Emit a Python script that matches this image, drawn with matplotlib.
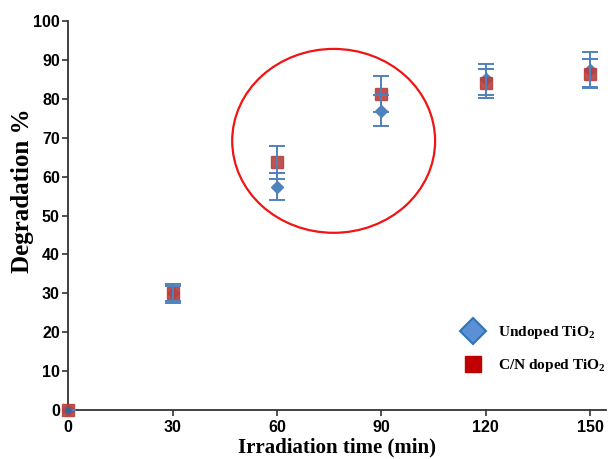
import matplotlib
matplotlib.use("Agg")
import matplotlib.pyplot as plt
from matplotlib.patches import Ellipse
from matplotlib.lines import Line2D

plt.rcParams['mathtext.fontset'] = 'custom'
plt.rcParams['mathtext.bf'] = 'Liberation Serif:bold'
plt.rcParams['mathtext.rm'] = 'Liberation Serif:bold'

# Irradiation time (min)
time = [0, 30, 60, 90, 120, 150]
x_ticks = [0, 30, 60, 90, 120, 150]
y_ticks = [0, 10, 20, 30, 40, 50, 60, 70, 80, 90, 100]

# Degradation % with error
undoped = [0, 30.0, 57.4, 76.9, 85.0, 87.5]
undoped_err = [0, 2.5, 3.5, 4.0, 4.0, 4.5]
doped = [0, 30.0, 63.7, 81.2, 84.0, 86.5]
doped_err = [0, 1.9, 4.3, 4.7, 3.8, 3.8]

# Highlighted region (centre x, centre y, width, height) in data units
highlight = (76.3, 69.2, 58.3, 47.3)

blue = '#4F81BD'
red = '#B9403D'

fig = plt.figure(figsize=(6.08, 4.59), dpi=100)
ax = fig.add_axes([0.112, 0.107, 0.885, 0.847])

ax.plot(time, undoped, linestyle='none', marker='D', markersize=6.5,
        color=blue, markeredgecolor=blue, zorder=2, clip_on=False)
ax.plot(time, doped, linestyle='none', marker='s', markersize=8.5,
        color=red, markeredgecolor=red, alpha=0.9, zorder=3, clip_on=False)
ax.errorbar(time, undoped, yerr=undoped_err, fmt='none', ecolor=blue,
            elinewidth=1.4, capsize=6, capthick=1.4, zorder=4)
ax.errorbar(time, doped, yerr=doped_err, fmt='none', ecolor=blue,
            elinewidth=1.4, capsize=6, capthick=1.4, zorder=4)
# small centre dot at the origin point
ax.plot(time[:1], undoped[:1], linestyle='none', marker='o', markersize=3.5,
        color='#3565A0', zorder=5, clip_on=False)

cx, cy, w, h = highlight
ax.add_patch(Ellipse((cx, cy), w, h, fill=False, edgecolor='#F01414',
                     linewidth=1.6, zorder=5))

ax.set_xlim(0, 154.6)
ax.set_ylim(0, 100)
ax.set_xticks(x_ticks)
ax.set_yticks(y_ticks)
for lab in ax.get_xticklabels() + ax.get_yticklabels():
    lab.set_fontfamily('Liberation Sans')
    lab.set_fontweight('bold')
    lab.set_fontsize(11.5)
ax.tick_params(axis='y', direction='out', length=4, width=1.2, color='#333333', pad=2)
ax.tick_params(axis='x', direction='out', length=4, width=1.2, color='#333333', pad=3)

for s in ['top', 'right']:
    ax.spines[s].set_visible(False)
for s in ['left', 'bottom']:
    ax.spines[s].set_linewidth(1.3)
    ax.spines[s].set_color('#333333')

ax.set_xlabel('Irradiation time (min)', fontfamily='Liberation Serif',
              fontweight='bold', fontsize=15, labelpad=2)
ax.set_ylabel('Degradation %', fontfamily='Liberation Serif',
              fontweight='bold', fontsize=18)
ax.yaxis.set_label_coords(-0.064, 0.563)

handles = [
    Line2D([], [], linestyle='none', marker='D', markersize=13,
           markerfacecolor='#5B8FD6', markeredgecolor='#2E75B6', markeredgewidth=1.5),
    Line2D([], [], linestyle='none', marker='s', markersize=12,
           markerfacecolor='#C00000', markeredgecolor='#C00000'),
]
labels = [r'Undoped TiO$_\mathbf{2}$', r'C/N doped TiO$_\mathbf{2}$']
ax.legend(handles, labels, loc='lower right', bbox_to_anchor=(1.025, 0.056),
          frameon=False, prop={'family': 'Liberation Serif', 'weight': 'bold', 'size': 11.1},
          handletextpad=1.0, labelspacing=1.05, handlelength=1.2)

fig.savefig('out.png', dpi=100)
